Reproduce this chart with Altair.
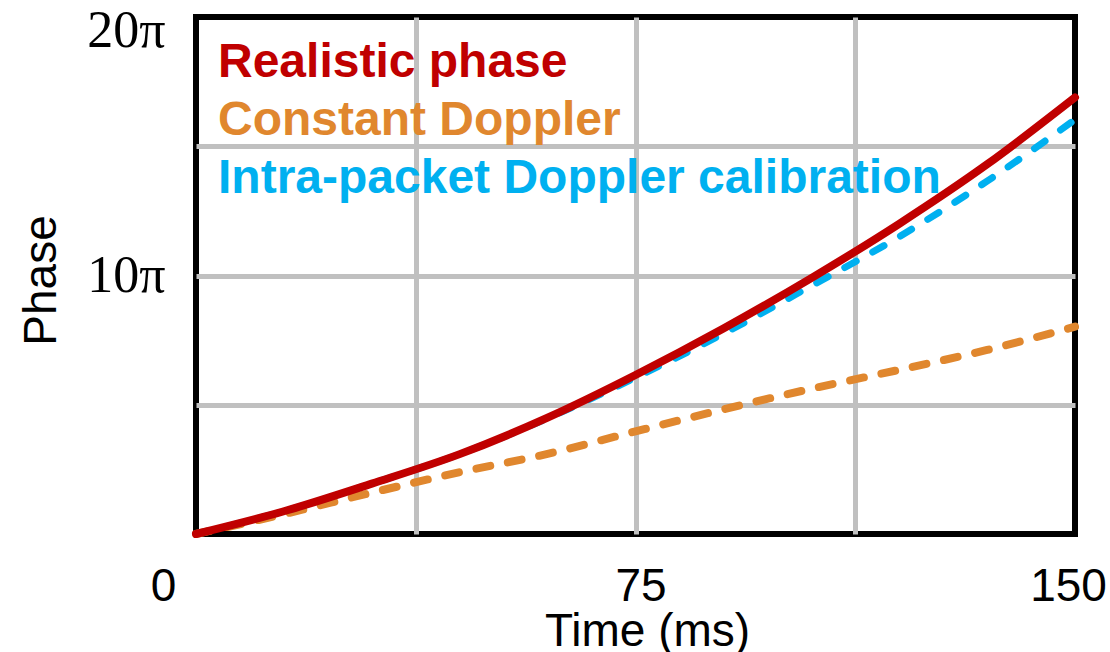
import altair as alt
import pandas as pd

# ---- data (phase in units of pi) ----
time_ms = [0, 15, 30, 45, 60, 75, 90, 105, 120, 135, 150]
realistic = [0, 0.88, 1.95, 3.09, 4.5, 6.15, 7.95, 9.9, 12.0, 14.3, 16.89]
constant = [0, 0.77, 1.6, 2.39, 3.1, 3.97, 4.82, 5.62, 6.35, 7.12, 8.02]
intra = [0, 0.88, 1.95, 3.09, 4.48, 6.05, 7.75, 9.6, 11.5, 13.65, 16.03]

series_names = ["Realistic phase", "Constant Doppler", "Intra-packet Doppler calibration"]
series_colors = ["#C00000", "#E0872E", "#00B0F0"]

x_ticks = [0, 37.5, 75, 112.5, 150]
y_ticks = [0, 5, 10, 15, 20]

rows = []
for name, vals in zip(series_names, [realistic, constant, intra]):
    for t, v in zip(time_ms, vals):
        rows.append({"time": t, "phase": v, "series": name})
df = pd.DataFrame(rows)

x_enc = alt.X(
    "time:Q",
    scale=alt.Scale(domain=[0, 150], nice=False, zero=False),
    axis=alt.Axis(
        values=x_ticks,
        title="Time (ms)",
        titleFont="Liberation Sans",
        titleFontSize=46,
        titleFontWeight="normal",
        titleColor="black",
        titleX=451,
        titleY=111,
        titleBaseline="alphabetic",
        labelFont="Liberation Sans",
        labelFontSize=46,
        labelColor="black",
        labelBaseline="alphabetic",
        labelPadding=66,
        labelExpr="datum.value == 37.5 || datum.value == 112.5 ? '' : datum.label",
        labelOffset={
            "condition": [
                {"test": "datum.value == 0", "value": -33},
                {"test": "datum.value == 150", "value": -7},
            ],
            "value": 5,
        },
        labelOverlap=False,
        labelFlush=False,
        ticks=False,
        tickSize=0,
        domain=False,
        grid=True,
        gridColor="#C0C0C0",
        gridWidth=5,
        gridOpacity={"condition": {"test": "datum.value == 0 || datum.value == 150", "value": 0}, "value": 1},
    ),
)

y_enc = alt.Y(
    "phase:Q",
    scale=alt.Scale(domain=[0, 20], nice=False),
    axis=alt.Axis(
        values=y_ticks,
        title="Phase",
        titleFont="Liberation Sans",
        titleFontSize=46,
        titleFontWeight="normal",
        titleColor="black",
        titleAngle=270,
        titleX=-141,
        titleY=263,
        titleAlign="center",
        titleBaseline="alphabetic",
        labelFont="Liberation Serif",
        labelFontSize=52,
        labelColor="black",
        labelAlign="right",
        labelBaseline="middle",
        labelPadding=31,
        labelExpr="datum.value == 10 ? '10π' : datum.value == 20 ? '20π' : ''",
        labelOffset={"condition": {"test": "datum.value == 20", "value": 13}, "value": 0},
        labelOverlap=False,
        labelFlush=False,
        ticks=False,
        tickSize=0,
        domain=False,
        grid=True,
        gridColor="#C0C0C0",
        gridWidth=5,
        gridOpacity={"condition": {"test": "datum.value == 0 || datum.value == 20", "value": 0}, "value": 1},
    ),
)

base = alt.Chart(df)

orange = base.transform_filter(alt.datum.series == series_names[1]).mark_line(
    color=series_colors[1], strokeWidth=8, strokeDash=[14, 18], strokeCap="round",
    interpolate="monotone"
).encode(x=x_enc, y=y_enc)

blue = base.transform_filter(alt.datum.series == series_names[2]).mark_line(
    color=series_colors[2], strokeWidth=7, strokeDash=[13, 19], strokeCap="round",
    interpolate="monotone"
).encode(x="time:Q", y="phase:Q")

red = base.transform_filter(alt.datum.series == series_names[0]).mark_line(
    color=series_colors[0], strokeWidth=8, strokeCap="round", interpolate="monotone"
).encode(x="time:Q", y="phase:Q")

legend_layers = []
for i, (name, col) in enumerate(zip(series_names, series_colors)):
    legend_layers.append(
        alt.Chart(pd.DataFrame({"label": [name]})).mark_text(
            align="left", baseline="alphabetic", font="Liberation Sans",
            fontSize=48, fontWeight="bold", color=col
        ).encode(x=alt.value(22), y=alt.value(60 + 58 * i), text="label:N")
    )

chart = alt.layer(orange, blue, red, *legend_layers).properties(
    width=879,
    height=517,
    background="white",
    autosize=alt.AutoSizeParams(type="none"),
    padding={"left": 196, "top": 17, "right": 35, "bottom": 118},
).configure_view(
    stroke="black", strokeWidth=6
)

chart.save("out.html", embed_options={"renderer": "svg", "actions": False})
